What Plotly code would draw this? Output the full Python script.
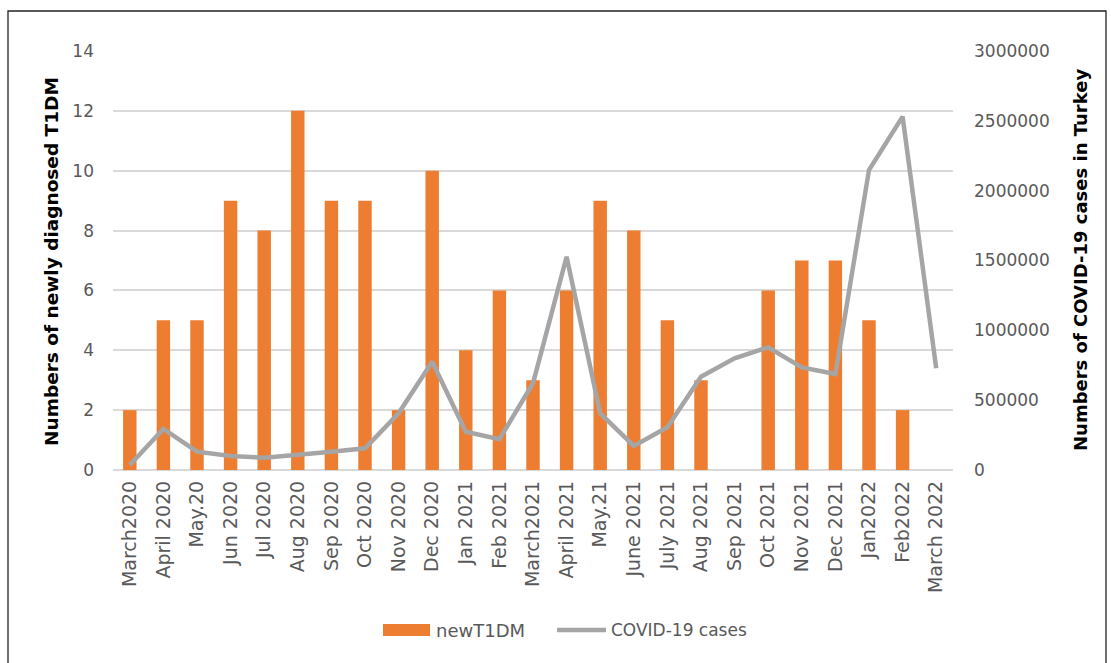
import plotly.graph_objects as go

categories = ["March2020", "April 2020", "May.20", "Jun 2020", "Jul 2020", "Aug 2020",
              "Sep 2020", "Oct 2020", "Nov 2020", "Dec 2020", "Jan 2021", "Feb 2021",
              "March2021", "April 2021", "May.21", "June 2021", "July 2021", "Aug 2021",
              "Sep 2021", "Oct 2021", "Nov 2021", "Dec 2021", "Jan2022", "Feb2022", "March 2022"]
new_t1dm = [2, 5, 5, 9, 8, 12, 9, 9, 2, 10, 4, 6, 3, 6, 9, 8, 5, 3, 0, 6, 7, 7, 5, 2, 0]
covid_cases = [36000, 294000, 131000, 100000, 88000, 107000, 131000, 155000, 406000, 775000,
               274000, 220000, 621000, 1527000, 406000, 172000, 306000, 668000, 800000, 878000,
               735000, 687000, 2148000, 2530000, 728000]
left_ticks = [0, 2, 4, 6, 8, 10, 12, 14]
right_ticks = [0, 500000, 1000000, 1500000, 2000000, 2500000, 3000000]
left_title = "Numbers of newly diagnosed T1DM"
right_title = "Numbers of COVID-19 cases in Turkey"
legend_names = ["newT1DM", "COVID-19 cases"]

FONT = "DejaVu Sans"
TICK_COLOR = "#595959"
BAR_COLOR = "#ED7D31"
LINE_COLOR = "#A5A5A5"

# plot area geometry (pixels)
L, R, T, B = 113, 953, 51, 470
W, H = 1111, 663
PW, PH = R - L, B - T


def px(x):
    return (x - L) / PW


def py(y):
    return (B - y) / PH


fig = go.Figure()
fig.add_trace(go.Bar(x=categories, y=new_t1dm, name=legend_names[0],
                     marker=dict(color=BAR_COLOR, line=dict(width=0)), yaxis="y"))
fig.add_trace(go.Scatter(x=categories, y=covid_cases, name=legend_names[1], mode="lines",
                         line=dict(color=LINE_COLOR, width=4.5), yaxis="y2"))

fig.update_layout(
    width=W, height=H,
    margin=dict(l=L, r=W - R, t=T, b=H - B, autoexpand=False),
    paper_bgcolor="white", plot_bgcolor="white",
    font=dict(family=FONT, color=TICK_COLOR, size=17),
    bargap=0.6,
    showlegend=False,
    xaxis=dict(type="category", tickangle=-90, showgrid=False, showline=False, ticks="",
               automargin=False, ticklabelstandoff=6,
               tickfont=dict(size=19, color=TICK_COLOR)),
    yaxis=dict(range=[0, 14], tickvals=left_ticks, showgrid=True, gridcolor="#D9D9D9",
               gridwidth=1.5, zeroline=True, zerolinecolor="#D9D9D9", zerolinewidth=1.5,
               ticks="", ticklabelstandoff=18, automargin=False,
               tickfont=dict(size=17, color=TICK_COLOR)),
    yaxis2=dict(range=[0, 3000000], tickvals=right_ticks, overlaying="y", side="right",
                showgrid=False, zeroline=False, ticks="", ticklabelstandoff=20,
                tickformat="d", automargin=False,
                tickfont=dict(size=17, color=TICK_COLOR)),
    annotations=[
        dict(text="<b>%s</b>" % left_title, xref="paper", yref="paper",
             x=px(51), y=py(262), textangle=-90, showarrow=False,
             xanchor="center", yanchor="middle",
             font=dict(family=FONT, size=18.5, color="black")),
        dict(text="<b>%s</b>" % right_title, xref="paper", yref="paper",
             x=px(1080), y=py(260), textangle=-90, showarrow=False,
             xanchor="center", yanchor="middle",
             font=dict(family=FONT, size=18, color="black")),
        dict(text=legend_names[0], xref="paper", yref="paper",
             x=px(434), y=py(630), showarrow=False, xanchor="left", yanchor="middle",
             font=dict(family=FONT, size=18, color=TICK_COLOR)),
        dict(text=legend_names[1], xref="paper", yref="paper",
             x=px(609), y=py(630), showarrow=False, xanchor="left", yanchor="middle",
             font=dict(family=FONT, size=17, color=TICK_COLOR)),
    ],
    shapes=[
        dict(type="rect", xref="paper", yref="paper",
             x0=px(8), x1=px(1106), y0=py(700), y1=py(11),
             line=dict(color="#222222", width=1.3), fillcolor="rgba(0,0,0,0)", layer="below"),
        # legend swatches
        dict(type="rect", xref="paper", yref="paper",
             x0=px(383), x1=px(430), y0=py(636), y1=py(624),
             line=dict(width=0), fillcolor=BAR_COLOR),
        dict(type="line", xref="paper", yref="paper",
             x0=px(557), x1=px(606), y0=py(630), y1=py(630),
             line=dict(color=LINE_COLOR, width=4.5)),
    ],
)

fig.write_html("out.html", config={"displayModeBar": False},
               post_script="document.body.style.margin='0';document.body.style.overflow='hidden';")
